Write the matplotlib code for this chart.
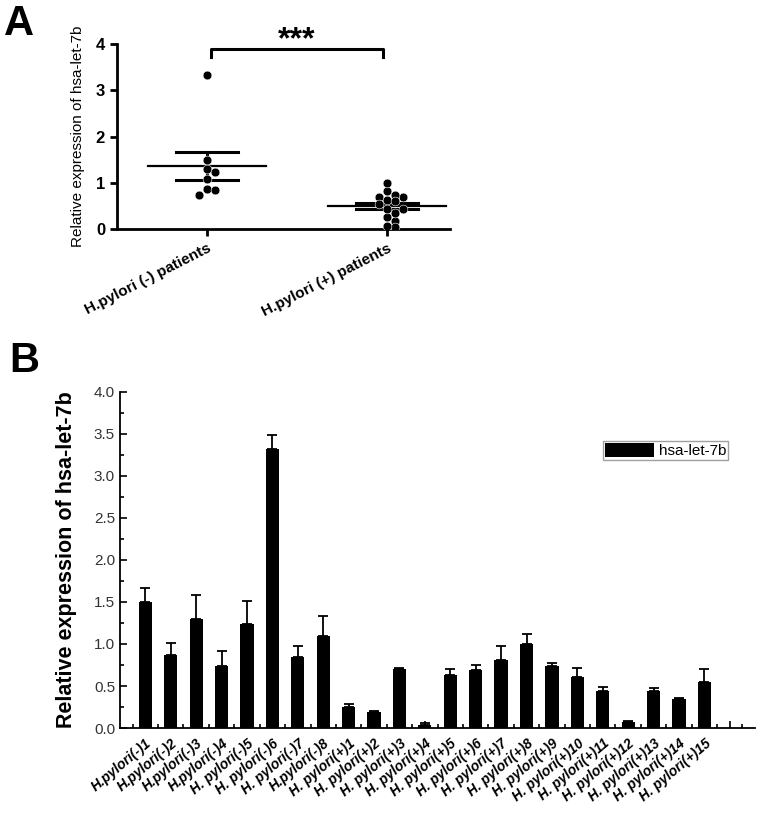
import numpy as np
import matplotlib.pyplot as plt
from matplotlib.ticker import MultipleLocator

plt.rcParams['font.family'] = ['Liberation Sans', 'DejaVu Sans']

# relative expression per patient (panel B)
neg_labels = ["H.pylori(-)1", "H.pylori(-)2", "H.pylori(-)3", "H.pylori(-)4",
              "H. pylori(-)5", "H. pylori(-)6", "H. pylori(-)7", "H.pylori(-)8"]
pos_labels = ["H. pylori(+)%d" % i for i in range(1, 16)]
neg_vals = [1.50, 0.865, 1.30, 0.74, 1.235, 3.325, 0.84, 1.095]
neg_err = [0.165, 0.145, 0.28, 0.175, 0.28, 0.16, 0.14, 0.235]
pos_vals = [0.255, 0.185, 0.70, 0.04, 0.635, 0.69, 0.815, 0.995,
            0.74, 0.61, 0.44, 0.075, 0.44, 0.35, 0.55]
pos_err = [0.03, 0.015, 0.02, 0.025, 0.07, 0.06, 0.165, 0.125,
           0.03, 0.11, 0.045, 0.012, 0.035, 0.012, 0.15]

group_names = ["H.pylori (-) patients", "H.pylori (+) patients"]
legend_name = "hsa-let-7b"
ylabel = "Relative expression of hsa-let-7b"


def swarm(vals, center, dx, dy):
    # simple beeswarm: place points in order, shift sideways when overlapping
    placed = []
    xs = np.zeros(len(vals))
    order = np.argsort(vals)[::-1]
    for i in order:
        y = vals[i]
        k = 0
        while True:
            cands = [0] if k == 0 else [k, -k]
            ok_x = None
            for c in cands:
                x = center + c * dx
                good = True
                for (px, py) in placed:
                    if ((x - px) / dx) ** 2 + ((y - py) / dy) ** 2 < 1.0:
                        good = False
                        break
                if good:
                    ok_x = x
                    break
            if ok_x is not None:
                break
            k += 1
        xs[i] = ok_x
        placed.append((ok_x, y))
    return xs


fig = plt.figure(figsize=(7.59, 8.13), dpi=100)

# ---------- panel A ----------
axA = fig.add_axes([0.154, 0.718, 0.439, 0.228])
groups = [np.array(neg_vals), np.array(pos_vals)]
for gi, g in enumerate(groups):
    pos = gi + 1
    xs = swarm(g, pos, 0.045, 0.13)
    axA.scatter(xs, g, s=40, color='black', zorder=3, edgecolors='white', linewidths=0.4)
    m = g.mean()
    sem = g.std(ddof=1) / np.sqrt(len(g))
    axA.plot([pos - 0.33, pos + 0.33], [m, m], color='black', lw=1.6, zorder=2)
    axA.plot([pos - 0.17, pos + 0.17], [m + sem, m + sem], color='black', lw=2.2, zorder=2)
    axA.plot([pos - 0.17, pos + 0.17], [m - sem, m - sem], color='black', lw=2.2, zorder=2)
    axA.plot([pos, pos], [m - sem, m + sem], color='black', lw=2.2, zorder=2)

axA.set_xlim(0.5, 2.35)
axA.set_ylim(0, 4)
axA.set_yticks([0, 1, 2, 3, 4])
axA.set_xticks([1, 2])
axA.set_xticklabels(group_names, rotation=27, ha='right', rotation_mode='anchor',
                    fontweight='bold', fontsize=11)
for t in axA.get_yticklabels():
    t.set_fontweight('bold')
    t.set_fontsize(12)
axA.tick_params(axis='both', direction='out', width=2, length=5)
axA.spines['top'].set_visible(False)
axA.spines['right'].set_visible(False)
axA.spines['left'].set_linewidth(2)
axA.spines['bottom'].set_linewidth(2)
axA.set_ylabel(ylabel, fontsize=11, labelpad=8)

# significance bracket
axA.plot([1.02, 1.02, 1.98, 1.98], [3.72, 3.89, 3.89, 3.72], color='black', lw=2.2,
         clip_on=False)
axA.text(1.5, 3.91, "***", ha='center', va='baseline', fontsize=23, fontweight='bold')

fig.text(0.005, 0.995, "A", fontsize=30, fontweight='bold', va='top', ha='left')

# ---------- panel B ----------
axB = fig.add_axes([0.158, 0.1045, 0.837, 0.4135])
vals = neg_vals + pos_vals
errs = neg_err + pos_err
labels = neg_labels + pos_labels
x = np.arange(1, len(vals) + 1)
axB.bar(x, vals, width=0.52, color='black', label=legend_name, zorder=2)
axB.errorbar(x, vals, yerr=[np.zeros(len(errs)), errs], fmt='none', ecolor='black',
             elinewidth=1.3, capsize=3.5, capthick=1.3, zorder=1)
axB.set_xlim(0, 25)
axB.set_ylim(0, 4.0)
axB.yaxis.set_major_locator(MultipleLocator(0.5))
axB.yaxis.set_minor_locator(MultipleLocator(0.25))
axB.set_yticks(np.arange(0, 4.01, 0.5))
axB.set_yticklabels(["%.1f" % v for v in np.arange(0, 4.01, 0.5)], fontsize=11,
                    color='#333333')
axB.set_xticks(np.arange(1, 25))
axB.set_xticks(np.arange(0.5, 25, 1.0), minor=True)
axB.set_xticklabels(labels + [""], rotation=40, ha='right', rotation_mode='anchor',
                    fontsize=10, fontweight='bold', fontstyle='italic')
axB.tick_params(axis='both', which='major', direction='in', length=5, width=1.2)
axB.tick_params(axis='both', which='minor', direction='in', length=3, width=1.2)
axB.tick_params(axis='x', which='major', pad=6)
axB.spines['top'].set_visible(False)
axB.spines['right'].set_visible(False)
axB.spines['left'].set_linewidth(1.3)
axB.spines['bottom'].set_linewidth(1.3)
axB.set_ylabel(ylabel, fontsize=15.5, fontweight='bold', labelpad=12)

leg = axB.legend(loc='upper left', bbox_to_anchor=(0.76, 0.855), fontsize=11,
                 frameon=True, fancybox=False, borderpad=0.15, handlelength=3.2,
                 handleheight=1.0, handletextpad=0.3, borderaxespad=0)
leg.get_frame().set_edgecolor('#888888')
leg.get_frame().set_linewidth(1.0)

fig.text(0.012, 0.58, "B", fontsize=30, fontweight='bold', va='top', ha='left')

fig.savefig("out.png", dpi=100)
